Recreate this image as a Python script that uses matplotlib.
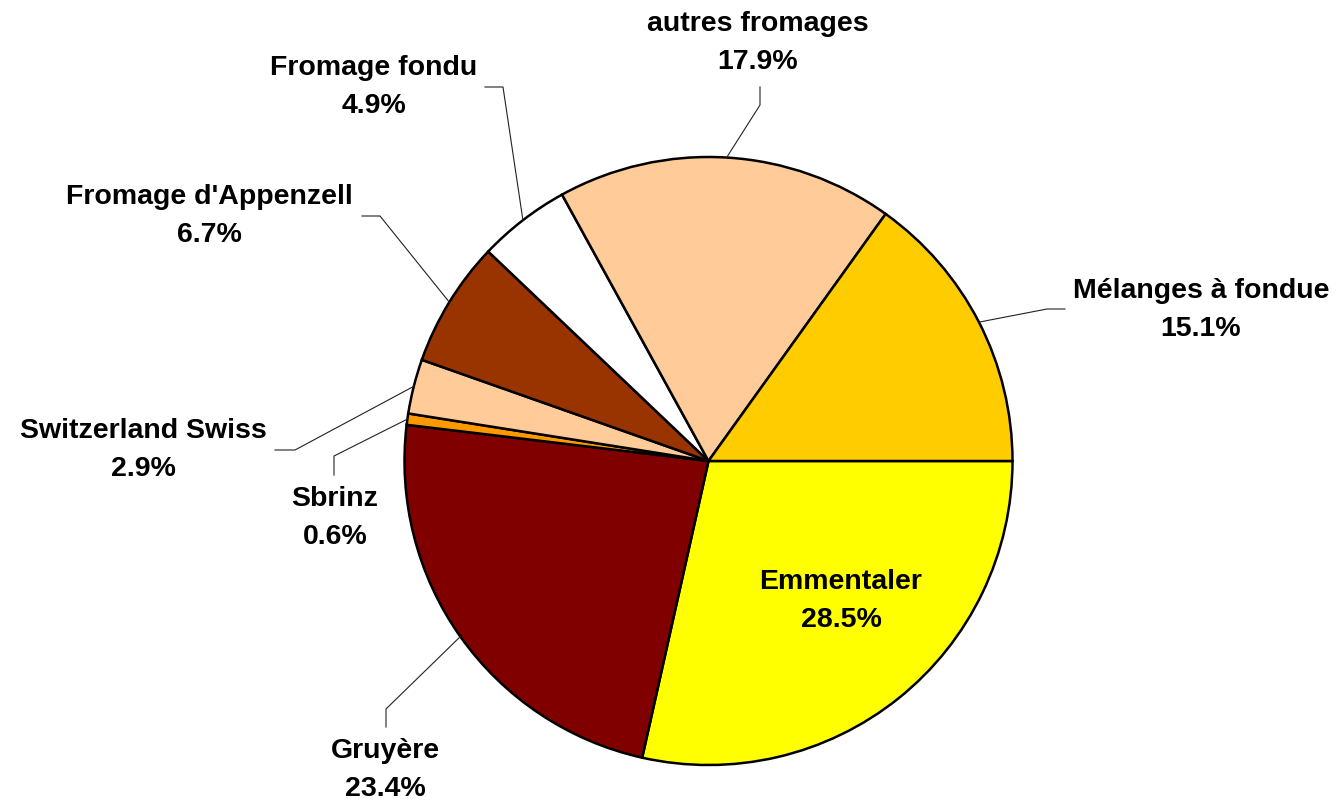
import numpy as np
import matplotlib.pyplot as plt

plt.rcParams['font.family'] = ['Liberation Sans', 'DejaVu Sans']

# data
fromages = ["Emmentaler", "Gruyère", "Sbrinz", "Switzerland Swiss",
            "Fromage d'Appenzell", "Fromage fondu", "autres fromages",
            "Mélanges à fondue"]
parts = [28.5, 23.4, 0.6, 2.9, 6.7, 4.9, 17.9, 15.1]
couleurs = ["#FFFF00", "#800000", "#FF9900", "#FFCC99",
            "#993300", "#FFFFFF", "#FFCC99", "#FFCC00"]

# layout (pixel coords, y down)
cx, cy, R = 708.5, 461, 304
# elbow point, end of leader, label centre ; None = label inside the slice
guides = [
    None,
    ((386, 709), (386, 727), (385, 770)),
    ((334, 456), (334, 475), (335, 518)),
    ((295, 450), (275, 450), (143, 450)),
    ((380, 216), (362, 216), (209, 216)),
    ((503, 87), (485, 87), (374, 87)),
    ((760, 105), (760, 87), (758, 43)),
    ((1047, 309), (1065, 309), (1201, 310)),
]

fig = plt.figure(figsize=(13.39, 8.05), dpi=100)
ax = fig.add_axes([0, 0, 1, 1])

wedges, _ = ax.pie(parts, colors=couleurs, startangle=0, counterclock=True,
                   center=(cx, cy), radius=R, frame=True,
                   wedgeprops=dict(edgecolor='black', linewidth=1.8))
ax.set_xlim(0, 1339)
ax.set_ylim(805, 0)
ax.set_aspect('equal')
ax.axis('off')

for w, nom, p, g in zip(wedges, fromages, parts, guides):
    txt = f"{nom}\n{p:.1f}%"
    if g is None:
        ax.text(841, 601, txt, ha='center', va='center', fontsize=20.5,
                fontweight='bold', linespacing=1.58)
        continue
    mid = np.deg2rad((w.theta1 + w.theta2) / 2)
    x0 = cx + R * np.cos(mid)
    y0 = cy + R * np.sin(mid)
    (xe, ye), (xf, yf), (xt, yt) = g
    ax.plot([x0, xe, xf], [y0, ye, yf], color='#222222', lw=0.8)
    ax.text(xt, yt, txt, ha='center', va='center', fontsize=20.5,
            fontweight='bold', linespacing=1.58)

fig.savefig("out.png", dpi=100)
